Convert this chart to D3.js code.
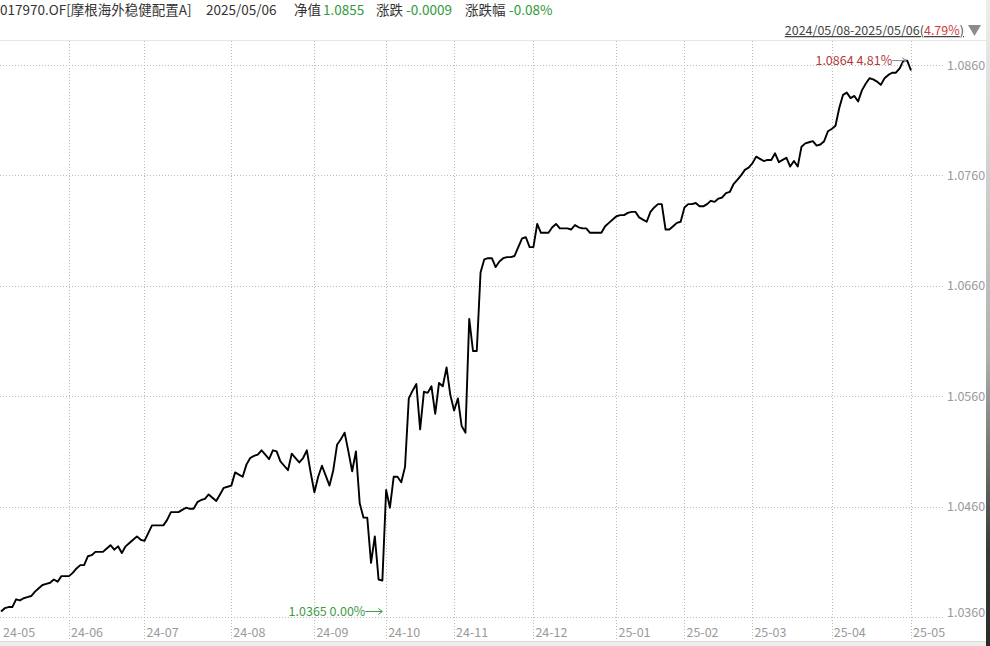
<!DOCTYPE html>
<html><head><meta charset="utf-8">
<script src="https://cdn.jsdelivr.net/npm/d3@7/dist/d3.min.js"></script>
<style>
body{margin:0;background:#fff;}
svg{display:block;font-family:"Noto Sans CJK SC","Noto Sans",sans-serif;}
</style>
</head><body>
<svg id="chart" width="990" height="646"></svg>
<script>
// ---------- DATA ----------
const navValues = [
1.0365,1.0368,1.0369,1.0369,1.0376,1.0375,1.0377,1.0378,1.0379,1.0383,
1.0386,1.0389,1.0390,1.0391,1.0394,1.0392,1.0397,1.0397,1.0397,1.0400,
1.0404,1.0407,1.0407,1.0415,1.0416,1.0419,1.0419,1.0419,1.0422,1.0425,
1.0421,1.0424,1.0418,1.0424,1.0427,1.0430,1.0433,1.0430,1.0429,1.0436,
1.0443,1.0443,1.0443,1.0443,1.0448,1.0455,1.0455,1.0455,1.0457,1.0459,
1.0458,1.0458,1.0464,1.0466,1.0467,1.0471,1.0468,1.0465,1.0471,1.0477,
1.0478,1.0479,1.0491,1.0489,1.0487,1.0498,1.0504,1.0506,1.0507,1.0511,
1.0507,1.0503,1.0511,1.0510,1.0501,1.0497,1.0493,1.0508,1.0504,1.0500,
1.0504,1.0511,1.0491,1.0473,1.0487,1.0497,1.0488,1.0479,1.0493,1.0516,
1.0521,1.0527,1.0510,1.0492,1.0510,1.0463,1.0450,1.0450,1.0409,1.0433,
1.0394,1.0393,1.0475,1.0459,1.0487,1.0487,1.0482,1.0496,1.0558,1.0565,
1.0571,1.0530,1.0564,1.0563,1.0569,1.0544,1.0572,1.0569,1.0586,1.0561,
1.0547,1.0558,1.0533,1.0527,1.0630,1.0601,1.0601,1.0672,1.0684,1.0685,
1.0685,1.0677,1.0682,1.0685,1.0686,1.0686,1.0687,1.0695,1.0703,1.0704,
1.0695,1.0695,1.0716,1.0708,1.0708,1.0708,1.0713,1.0716,1.0712,1.0712,
1.0712,1.0711,1.0715,1.0713,1.0712,1.0712,1.0708,1.0708,1.0708,1.0708,
1.0714,1.0717,1.0720,1.0723,1.0724,1.0724,1.0726,1.0727,1.0727,1.0722,
1.0720,1.0718,1.0727,1.0731,1.0734,1.0734,1.0711,1.0711,1.0714,1.0717,
1.0718,1.0731,1.0734,1.0734,1.0735,1.0732,1.0732,1.0734,1.0737,1.0736,
1.0739,1.0740,1.0744,1.0745,1.0752,1.0756,1.0760,1.0765,1.0767,1.0771,
1.0777,1.0775,1.0773,1.0774,1.0774,1.0780,1.0772,1.0774,1.0776,1.0768,
1.0773,1.0768,1.0786,1.0789,1.0790,1.0791,1.0787,1.0788,1.0791,1.0800,
1.0802,1.0805,1.0821,1.0833,1.0835,1.0830,1.0832,1.0827,1.0837,1.0843,
1.0848,1.0847,1.0845,1.0842,1.0848,1.0851,1.0853,1.0853,1.0857,1.0864,
1.0864,1.0855
];
const monthLabels = ["24-05","24-06","24-07","24-08","24-09","24-10","24-11","24-12","25-01","25-02","25-03","25-04","25-05"];
const monthStartIndex = [0,18,38,61,83,102,120,141,163,181,199,220,241];
const yTickValues = [1.0360,1.0460,1.0560,1.0660,1.0760,1.0860];
const headerTitle = "017970.OF[摩根海外稳健配置A]";
const headerDate = "2025/05/06";
const headerFields = ["净值","涨跌","涨跌幅"];
const headerFieldValues = ["1.0855","-0.0009","-0.08%"];
const rangeText = "2024/05/08-2025/05/06";
const rangeReturn = "4.79%";
const maxNote = {index:240, value:1.0864, text:"1.0864 4.81%"};
const minNote = {index:101, value:1.0365, text:"1.0365 0.00%"};

// ---------- DRAW ----------
const svg = d3.select("#chart");
const W = 990, H = 646;
const x = d3.scaleLinear().domain([0, navValues.length - 1]).range([1, 911]);
const y = d3.scaleLinear().domain([1.036, 1.086]).range([617, 65]);

const defs = svg.append("defs");
const grad = defs.append("linearGradient").attr("id","edge").attr("x1",0).attr("y1",0).attr("x2",0).attr("y2",1);
grad.append("stop").attr("offset","0%").attr("stop-color","#eeeeee");
grad.append("stop").attr("offset","55%").attr("stop-color","#b0b0b0");
grad.append("stop").attr("offset","85%").attr("stop-color","#3a3a3a");
grad.append("stop").attr("offset","100%").attr("stop-color","#2a2a2a");

// top separator
svg.append("line").attr("x1",0).attr("x2",W).attr("y1",40.5).attr("y2",40.5)
  .attr("stroke","#e6e6e6").attr("stroke-width",1);

// horizontal grid
svg.append("g").selectAll("line").data(yTickValues).join("line")
  .attr("x1",0).attr("x2",945)
  .attr("y1",d=>Math.round(y(d))+0.5).attr("y2",d=>Math.round(y(d))+0.5)
  .attr("stroke","#bdbdbd").attr("stroke-width",1).attr("stroke-dasharray","1,2");

// vertical grid
svg.append("g").selectAll("line").data(monthStartIndex.slice(1)).join("line")
  .attr("x1",d=>Math.round(x(d))+0.5).attr("x2",d=>Math.round(x(d))+0.5)
  .attr("y1",41).attr("y2",641)
  .attr("stroke","#bdbdbd").attr("stroke-width",1).attr("stroke-dasharray","1,2");

// y labels
svg.append("g").selectAll("text").data(yTickValues).join("text")
  .attr("x",947)
  .attr("y",(d,i)=> i===0 ? y(d) : y(d)+4.5)
  .attr("font-size",12.5).attr("fill","#9a9a9a")
  .text(d=>d.toFixed(4));

// x labels
svg.append("g").selectAll("text").data(monthLabels).join("text")
  .attr("x",(d,i)=>x(monthStartIndex[i])+2)
  .attr("y",636.5)
  .attr("font-size",12.5).attr("fill","#9a9a9a")
  .text(d=>d);

// line
const line = d3.line().x((d,i)=>x(i)).y(d=>y(d));
svg.append("path").datum(navValues)
  .attr("d",line).attr("fill","none")
  .attr("stroke","#000").attr("stroke-width",1.9).attr("stroke-linejoin","round");

// annotations
function arrow(x1, x2, yy, color){
  svg.append("line").attr("x1",x1).attr("x2",x2).attr("y1",yy).attr("y2",yy)
    .attr("stroke",color).attr("stroke-width",1);
  svg.append("path").attr("d",`M${x2-4},${yy-3}L${x2},${yy}L${x2-4},${yy+3}`)
    .attr("fill","none").attr("stroke",color).attr("stroke-width",1);
}
{
  const ax = x(maxNote.index)-1, ay = y(maxNote.value);
  arrow(ax-14, ax, ay, "#7f8c99");
  svg.append("text").attr("x",ax-14).attr("y",ay+4.5).attr("text-anchor","end")
    .attr("font-size",12.5).attr("fill","#b03a3a").text(maxNote.text);
}
{
  const ax = x(minNote.index), ay = y(minNote.value);
  arrow(ax-17, ax, ay, "#3f9a47");
  svg.append("text").attr("x",ax-17).attr("y",ay+4.5).attr("text-anchor","end")
    .attr("font-size",12.5).attr("fill","#3f9a47").text(minNote.text);
}

// header
const hdr = svg.append("g").attr("font-size",13.5);
hdr.append("text").attr("x",0).attr("y",15).attr("fill","#333").text(headerTitle);
hdr.append("text").attr("x",206).attr("y",15).attr("fill","#333").text(headerDate);
const fieldX = [294,376,465], valX = [323,406,509];
headerFields.forEach((f,i)=>{
  hdr.append("text").attr("x",fieldX[i]).attr("y",15).attr("fill","#333").text(f);
  hdr.append("text").attr("x",valX[i]).attr("y",15).attr("fill","#2f9a3a").text(headerFieldValues[i]);
});

// range text top-right
const rt = svg.append("text").attr("x",964).attr("y",35).attr("text-anchor","end")
  .attr("font-size",12.5).attr("fill","#444").style("text-decoration","underline");
rt.append("tspan").text(rangeText + "(");
rt.append("tspan").attr("fill","#d03a3a").text(rangeReturn);
rt.append("tspan").text(")");
svg.append("path").attr("d","M968,25L981,25L974.5,36Z").attr("fill","#8c8c8c");

// bottom band and right edge
svg.append("rect").attr("x",0).attr("y",641).attr("width",W).attr("height",5).attr("fill","#eeeeee");
svg.append("line").attr("x1",0).attr("x2",W).attr("y1",641.5).attr("y2",641.5).attr("stroke","#dcdcdc");
svg.append("rect").attr("x",986).attr("y",0).attr("width",4).attr("height",H).attr("fill","url(#edge)");
</script>
</body></html>
